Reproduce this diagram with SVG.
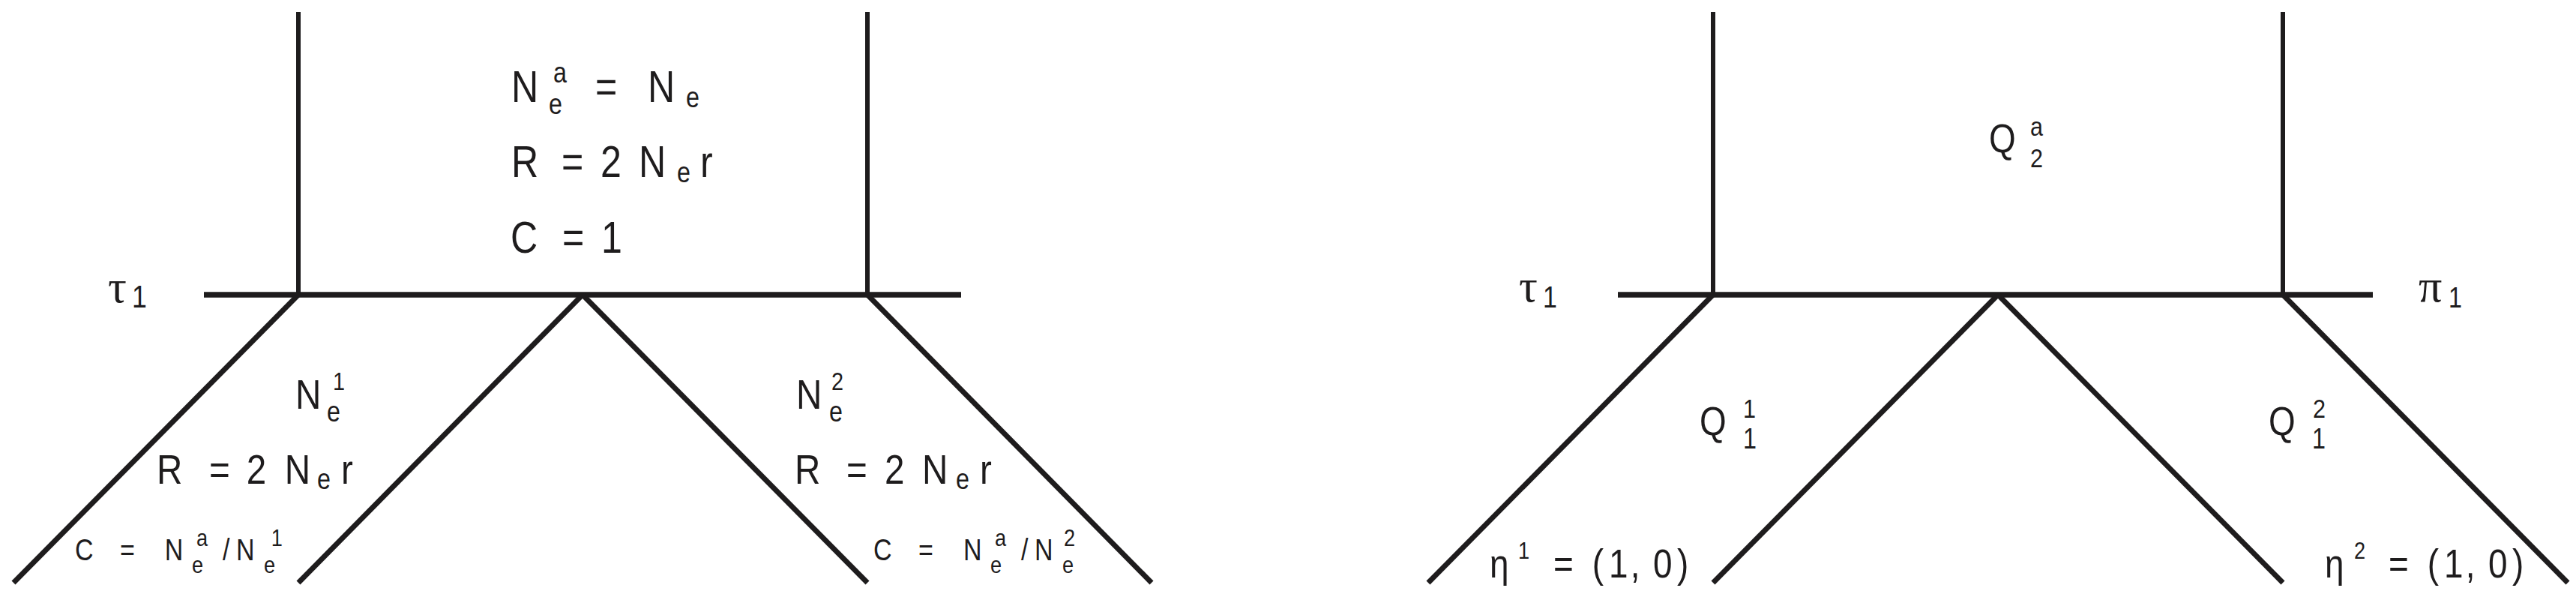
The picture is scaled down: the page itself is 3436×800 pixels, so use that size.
<svg xmlns="http://www.w3.org/2000/svg" width="3436" height="800" viewBox="0 0 3436 800">
<style>
.ln{stroke:#1e1c1d;fill:none;stroke-linecap:butt}
.v{stroke-width:6}
.h{stroke-width:7.5}
.d{stroke-width:7}
text{font-family:"Liberation Sans",Arial,sans-serif;fill:#1e1c1d}
.g{font-family:"Liberation Serif","Times New Roman",serif}
.m{font-size:59px}
.b{font-size:56px}
.s{font-size:40px}
</style>
<rect width="3436" height="800" fill="#fff"/>
<g id="connectors">
  <line class="ln v" x1="398" y1="16" x2="398" y2="393"/>
  <line class="ln v" x1="1157" y1="16" x2="1157" y2="393"/>
  <line class="ln h" x1="272" y1="393" x2="1282" y2="393"/>
  <line class="ln d" x1="398" y1="393" x2="18" y2="777"/>
  <line class="ln d" x1="777" y1="393" x2="398" y2="777"/>
  <line class="ln d" x1="777" y1="393" x2="1157" y2="777"/>
  <line class="ln d" x1="1157" y1="393" x2="1536" y2="777"/>
  <line class="ln v" x1="2285" y1="16" x2="2285" y2="393"/>
  <line class="ln v" x1="3045" y1="16" x2="3045" y2="393"/>
  <line class="ln h" x1="2158" y1="393" x2="3165" y2="393"/>
  <line class="ln d" x1="2285" y1="393" x2="1905" y2="777"/>
  <line class="ln d" x1="2665" y1="393" x2="2285" y2="777"/>
  <line class="ln d" x1="2665" y1="393" x2="3045" y2="777"/>
  <line class="ln d" x1="3045" y1="393" x2="3425" y2="777"/>
</g>
<g id="left-ancestral">
  <text class="m" transform="translate(682 0) scale(.85 1)"><tspan x="0" y="136">N</tspan><tspan x="65.9" y="110" font-size="38">a</tspan><tspan x="58.8" y="152" font-size="38">e</tspan><tspan x="131.8" y="136">=</tspan><tspan x="214" y="136">N</tspan><tspan x="274" y="143" font-size="38">e</tspan></text>
  <text class="m" transform="translate(682 0) scale(.85 1)"><tspan x="0" y="236">R</tspan><tspan x="78.8" y="236">=</tspan><tspan x="140" y="236">2</tspan><tspan x="200" y="236">N</tspan><tspan x="260" y="243" font-size="38">e</tspan><tspan x="296.5" y="236">r</tspan></text>
  <text class="m" transform="translate(681 0) scale(.85 1)"><tspan x="0" y="337">C</tspan><tspan x="81.2" y="337">=</tspan><tspan x="142.4" y="337">1</tspan></text>
</g>
<g id="left-tau">
  <text class="g" font-size="62" x="144" y="403">τ</text>
  <text font-size="42" transform="translate(176 410) scale(.85 1)">1</text>
</g>
<g id="left-pop1">
  <text class="b" transform="translate(394 0) scale(.85 1)"><tspan x="0" y="545">N</tspan><tspan x="58.8" y="520" font-size="34">1</tspan><tspan x="49.4" y="562" font-size="38">e</tspan></text>
  <text class="b" transform="translate(209 0) scale(.85 1)"><tspan x="0" y="645">R</tspan><tspan x="82.4" y="645">=</tspan><tspan x="141" y="645">2</tspan><tspan x="201" y="645">N</tspan><tspan x="251.8" y="652" font-size="38">e</tspan><tspan x="289.4" y="645">r</tspan></text>
  <text class="s" transform="translate(100 0) scale(.85 1)"><tspan x="0" y="747">C</tspan><tspan x="70.6" y="747">=</tspan><tspan x="141" y="747">N</tspan><tspan x="190.6" y="728" font-size="32">a</tspan><tspan x="183.5" y="764" font-size="32">e</tspan><tspan x="231.8" y="747">/</tspan><tspan x="253" y="747">N</tspan><tspan x="308" y="728" font-size="32">1</tspan><tspan x="296.5" y="764" font-size="32">e</tspan></text>
</g>
<g id="left-pop2">
  <text class="b" transform="translate(1062 0) scale(.85 1)"><tspan x="0" y="545">N</tspan><tspan x="55.3" y="520" font-size="34">2</tspan><tspan x="51.8" y="562" font-size="38">e</tspan></text>
  <text class="b" transform="translate(1060 0) scale(.85 1)"><tspan x="0" y="645">R</tspan><tspan x="81.2" y="645">=</tspan><tspan x="141.2" y="645">2</tspan><tspan x="200" y="645">N</tspan><tspan x="252.9" y="652" font-size="38">e</tspan><tspan x="290.6" y="645">r</tspan></text>
  <text class="s" transform="translate(1165 0) scale(.85 1)"><tspan x="0" y="747">C</tspan><tspan x="70.6" y="747">=</tspan><tspan x="141.2" y="747">N</tspan><tspan x="190.6" y="728" font-size="32">a</tspan><tspan x="183.5" y="764" font-size="32">e</tspan><tspan x="231.8" y="747">/</tspan><tspan x="253" y="747">N</tspan><tspan x="298.8" y="728" font-size="32">2</tspan><tspan x="296.5" y="764" font-size="32">e</tspan></text>
</g>
<g id="right-ancestral">
  <text font-size="54" transform="translate(2653 0) scale(.85 1)"><tspan x="0" y="203">Q</tspan><tspan x="64.7" y="181" font-size="36">a</tspan><tspan x="64.7" y="223" font-size="36">2</tspan></text>
</g>
<g id="right-tau">
  <text class="g" font-size="62" x="2026" y="402">τ</text>
  <text font-size="40" transform="translate(2058 410) scale(.85 1)">1</text>
</g>
<g id="right-pi">
  <text class="g" font-size="62" x="3226" y="402">π</text>
  <text font-size="38" transform="translate(3266 410) scale(.85 1)">1</text>
</g>
<g id="right-pop1">
  <text font-size="54" transform="translate(2267 0) scale(.85 1)"><tspan x="0" y="580">Q</tspan><tspan x="68.2" y="557" font-size="36">1</tspan><tspan x="68.2" y="598" font-size="38">1</tspan></text>
  <text font-size="54" transform="translate(1987 0) scale(.85 1)"><tspan x="0" y="770">η</tspan><tspan x="44.7" y="745" font-size="32">1</tspan><tspan x="100" y="770">=</tspan><tspan x="161" y="770">(</tspan><tspan x="187" y="770">1</tspan><tspan x="221" y="770">,</tspan><tspan x="256.5" y="770">0</tspan><tspan x="294" y="770">)</tspan></text>
</g>
<g id="right-pop2">
  <text font-size="54" transform="translate(3026 0) scale(.85 1)"><tspan x="0" y="580">Q</tspan><tspan x="69.4" y="557" font-size="36">2</tspan><tspan x="68.2" y="598" font-size="38">1</tspan></text>
  <text font-size="54" transform="translate(3101 0) scale(.85 1)"><tspan x="0" y="770">η</tspan><tspan x="45.9" y="745" font-size="32">2</tspan><tspan x="100" y="770">=</tspan><tspan x="161" y="770">(</tspan><tspan x="187" y="770">1</tspan><tspan x="221" y="770">,</tspan><tspan x="256.5" y="770">0</tspan><tspan x="294" y="770">)</tspan></text>
</g>
</svg>
